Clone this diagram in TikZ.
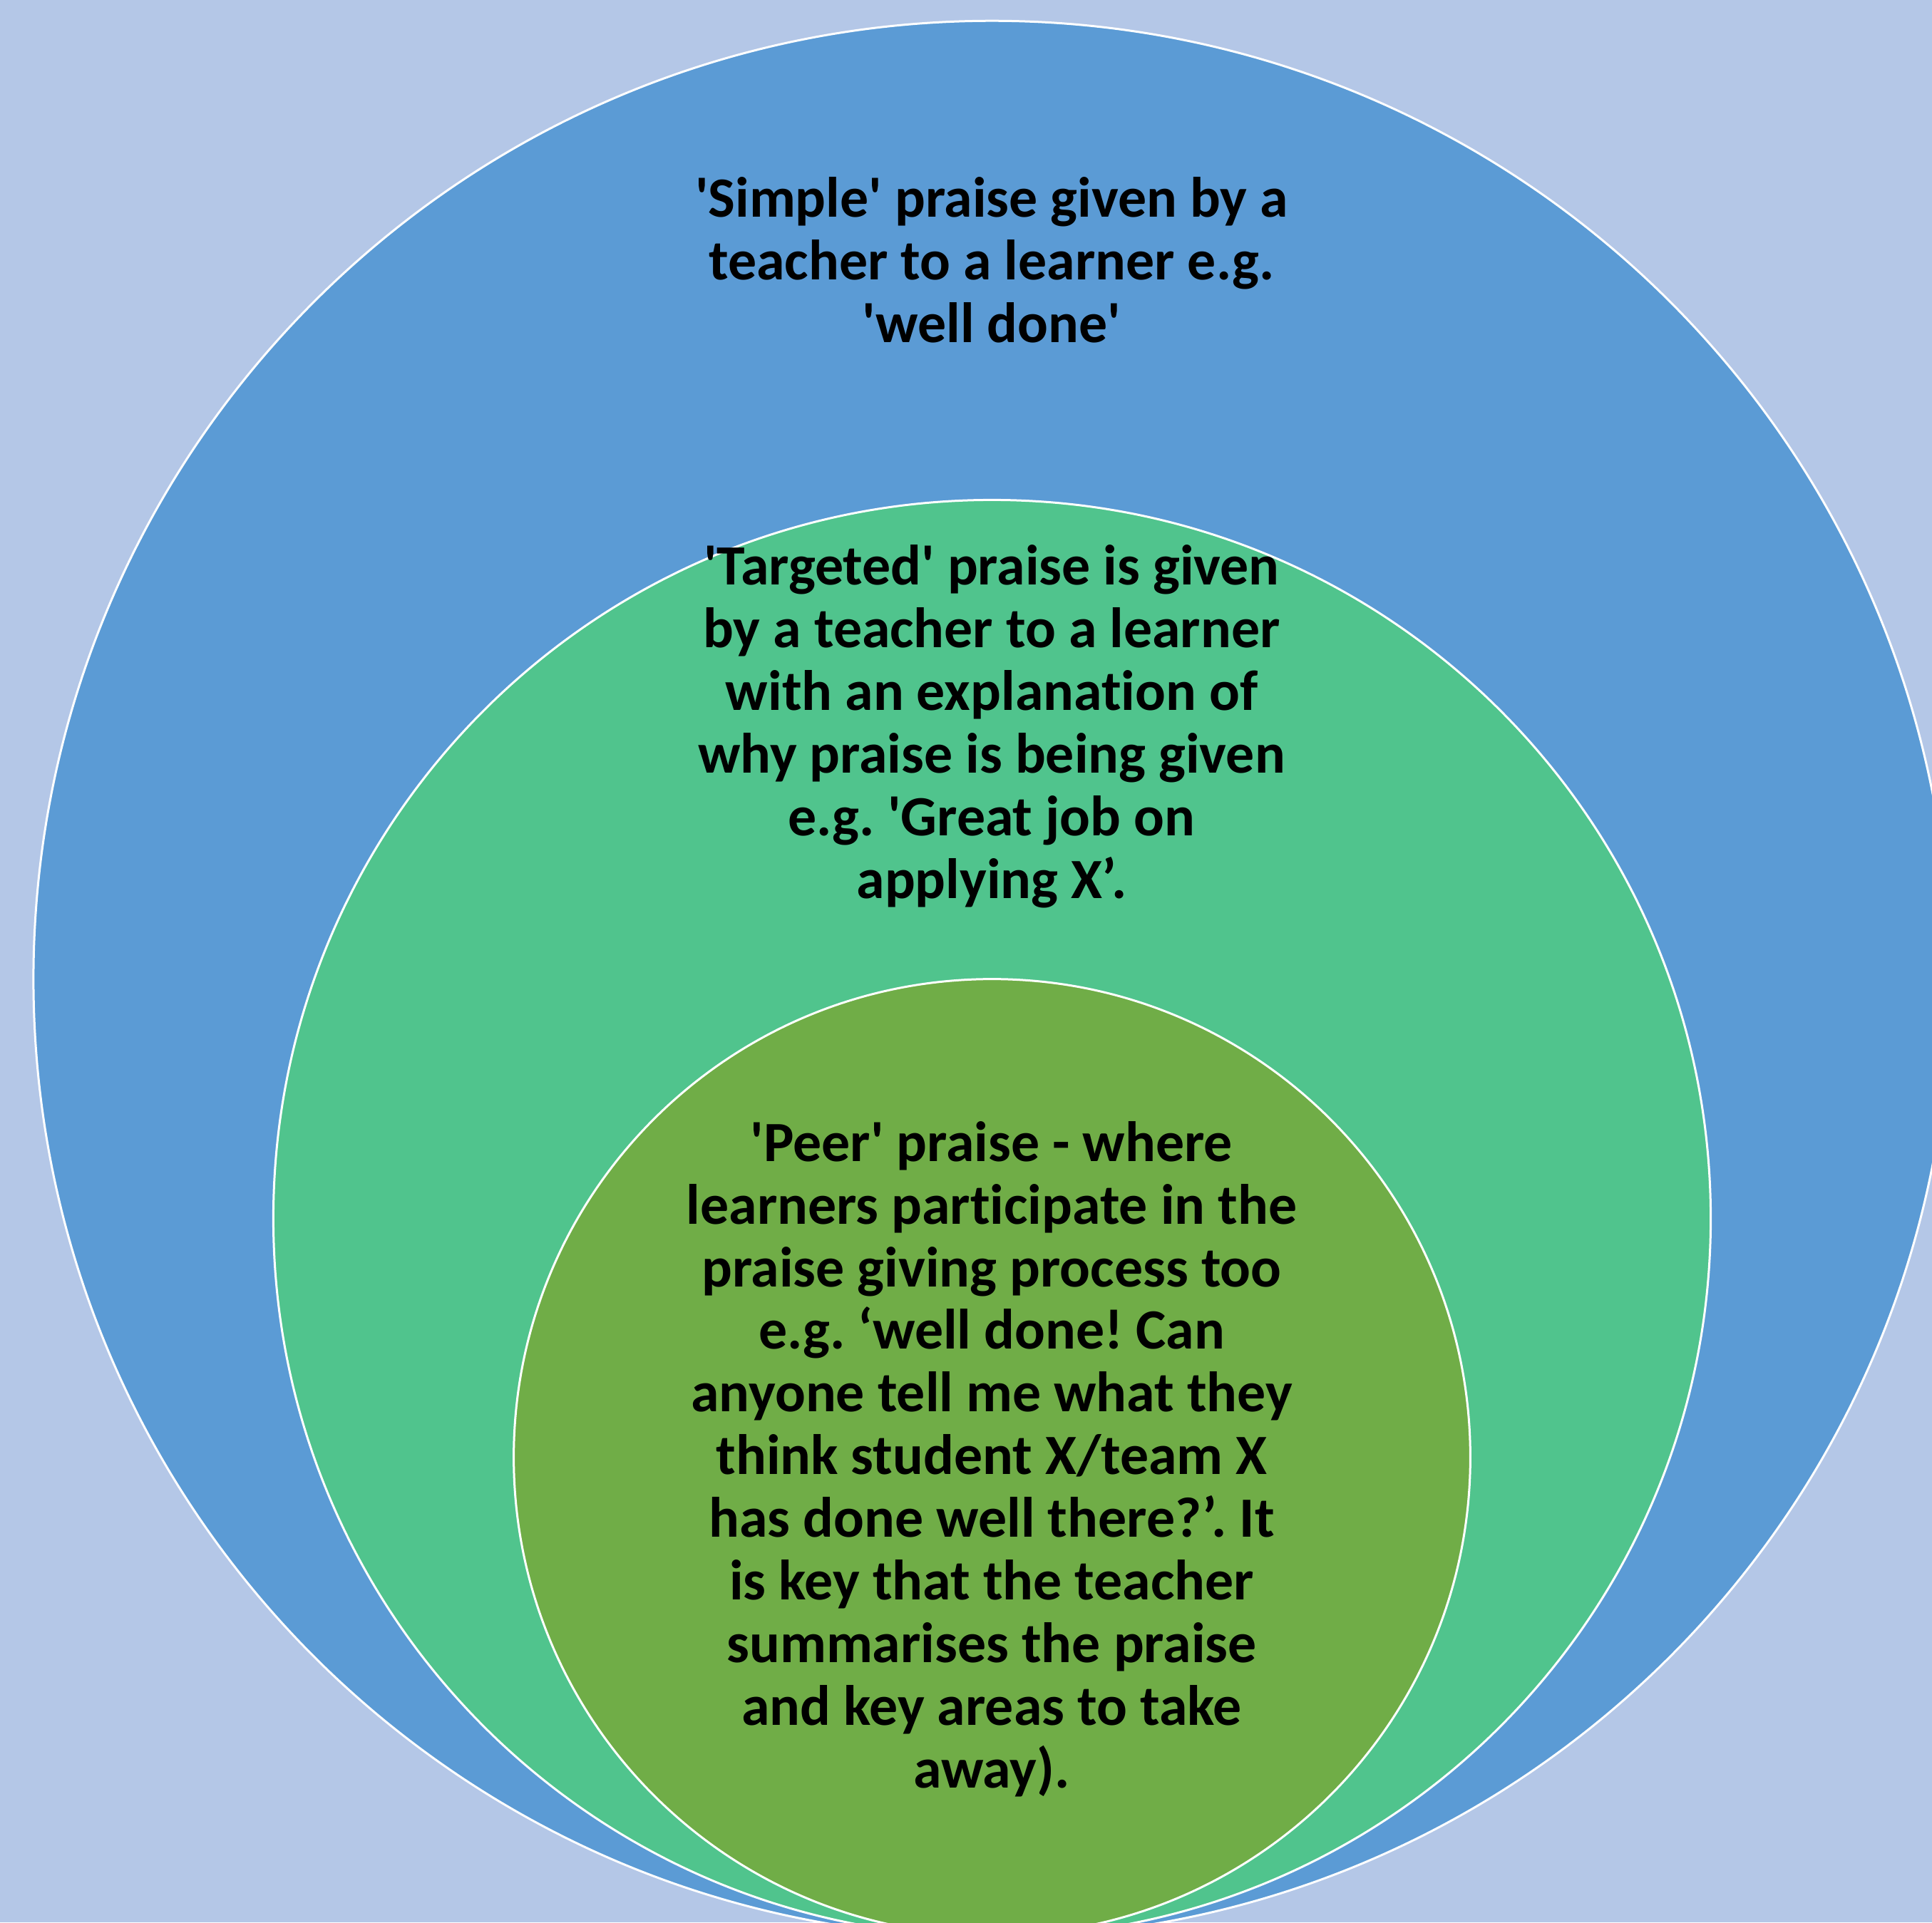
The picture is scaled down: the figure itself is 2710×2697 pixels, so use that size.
\documentclass[tikz,border=0pt]{standalone}
\usepackage{fontspec}
\newfontfamily\lblfont{Carlito}[Ligatures={NoCommon}]
\definecolor{bgc}{HTML}{B4C7E7}
\definecolor{outerc}{HTML}{5B9BD5}
\definecolor{midc}{HTML}{50C48D}
\definecolor{innerc}{HTML}{70AD47}
\tikzset{
  ring/.style={circle, draw=white, line width=0.03cm, inner sep=0pt, outer sep=0pt},
  lbl/.style={align=center, inner sep=0pt, text=black,
    font=\frenchspacing\lblfont\bfseries\fontsize{22.7pt}{25pt}\selectfont}
}
\newcommand{\sq}{\textquotesingle}
\begin{document}
\begin{tikzpicture}[x=0.01cm, y=-0.01cm]
\useasboundingbox (0,0) rectangle (2710,2697);
\fill[bgc] (0,0) rectangle (2710,2697);
\clip (0,0) rectangle (2710,2697);
\node[ring, fill=outerc, minimum size=26.876cm] (outer) at (1391.5,1373.8) {};
\node[ring, fill=midc, minimum size=20.15cm] (mid) at (1391.5,1709.5) {};
\node[ring, fill=innerc, minimum size=13.41cm] (inner) at (1391.5,2044.5) {};
\node[lbl] (t1) at (1391,365) {\sq Simple\sq{} praise given by a\\teacher to a learner e.g.\\\sq well done\sq};
\node[lbl] (t2) at (1391,1019) {\sq Targeted\sq{} praise is given\\by a teacher to a learner\\with an explanation of\\why praise is being given\\e.g. \sq Great job on\\applying X’.};
\node[lbl] (t3) at (1391,2047) {\sq Peer\sq{} praise - where\\learners participate in the\\praise giving process too\\e.g. ‘well done! Can\\anyone tell me what they\\think student X/team X\\has done well there?’. It\\is key that the teacher\\summarises the praise\\and key areas to take\\away).};
\end{tikzpicture}
\end{document}
